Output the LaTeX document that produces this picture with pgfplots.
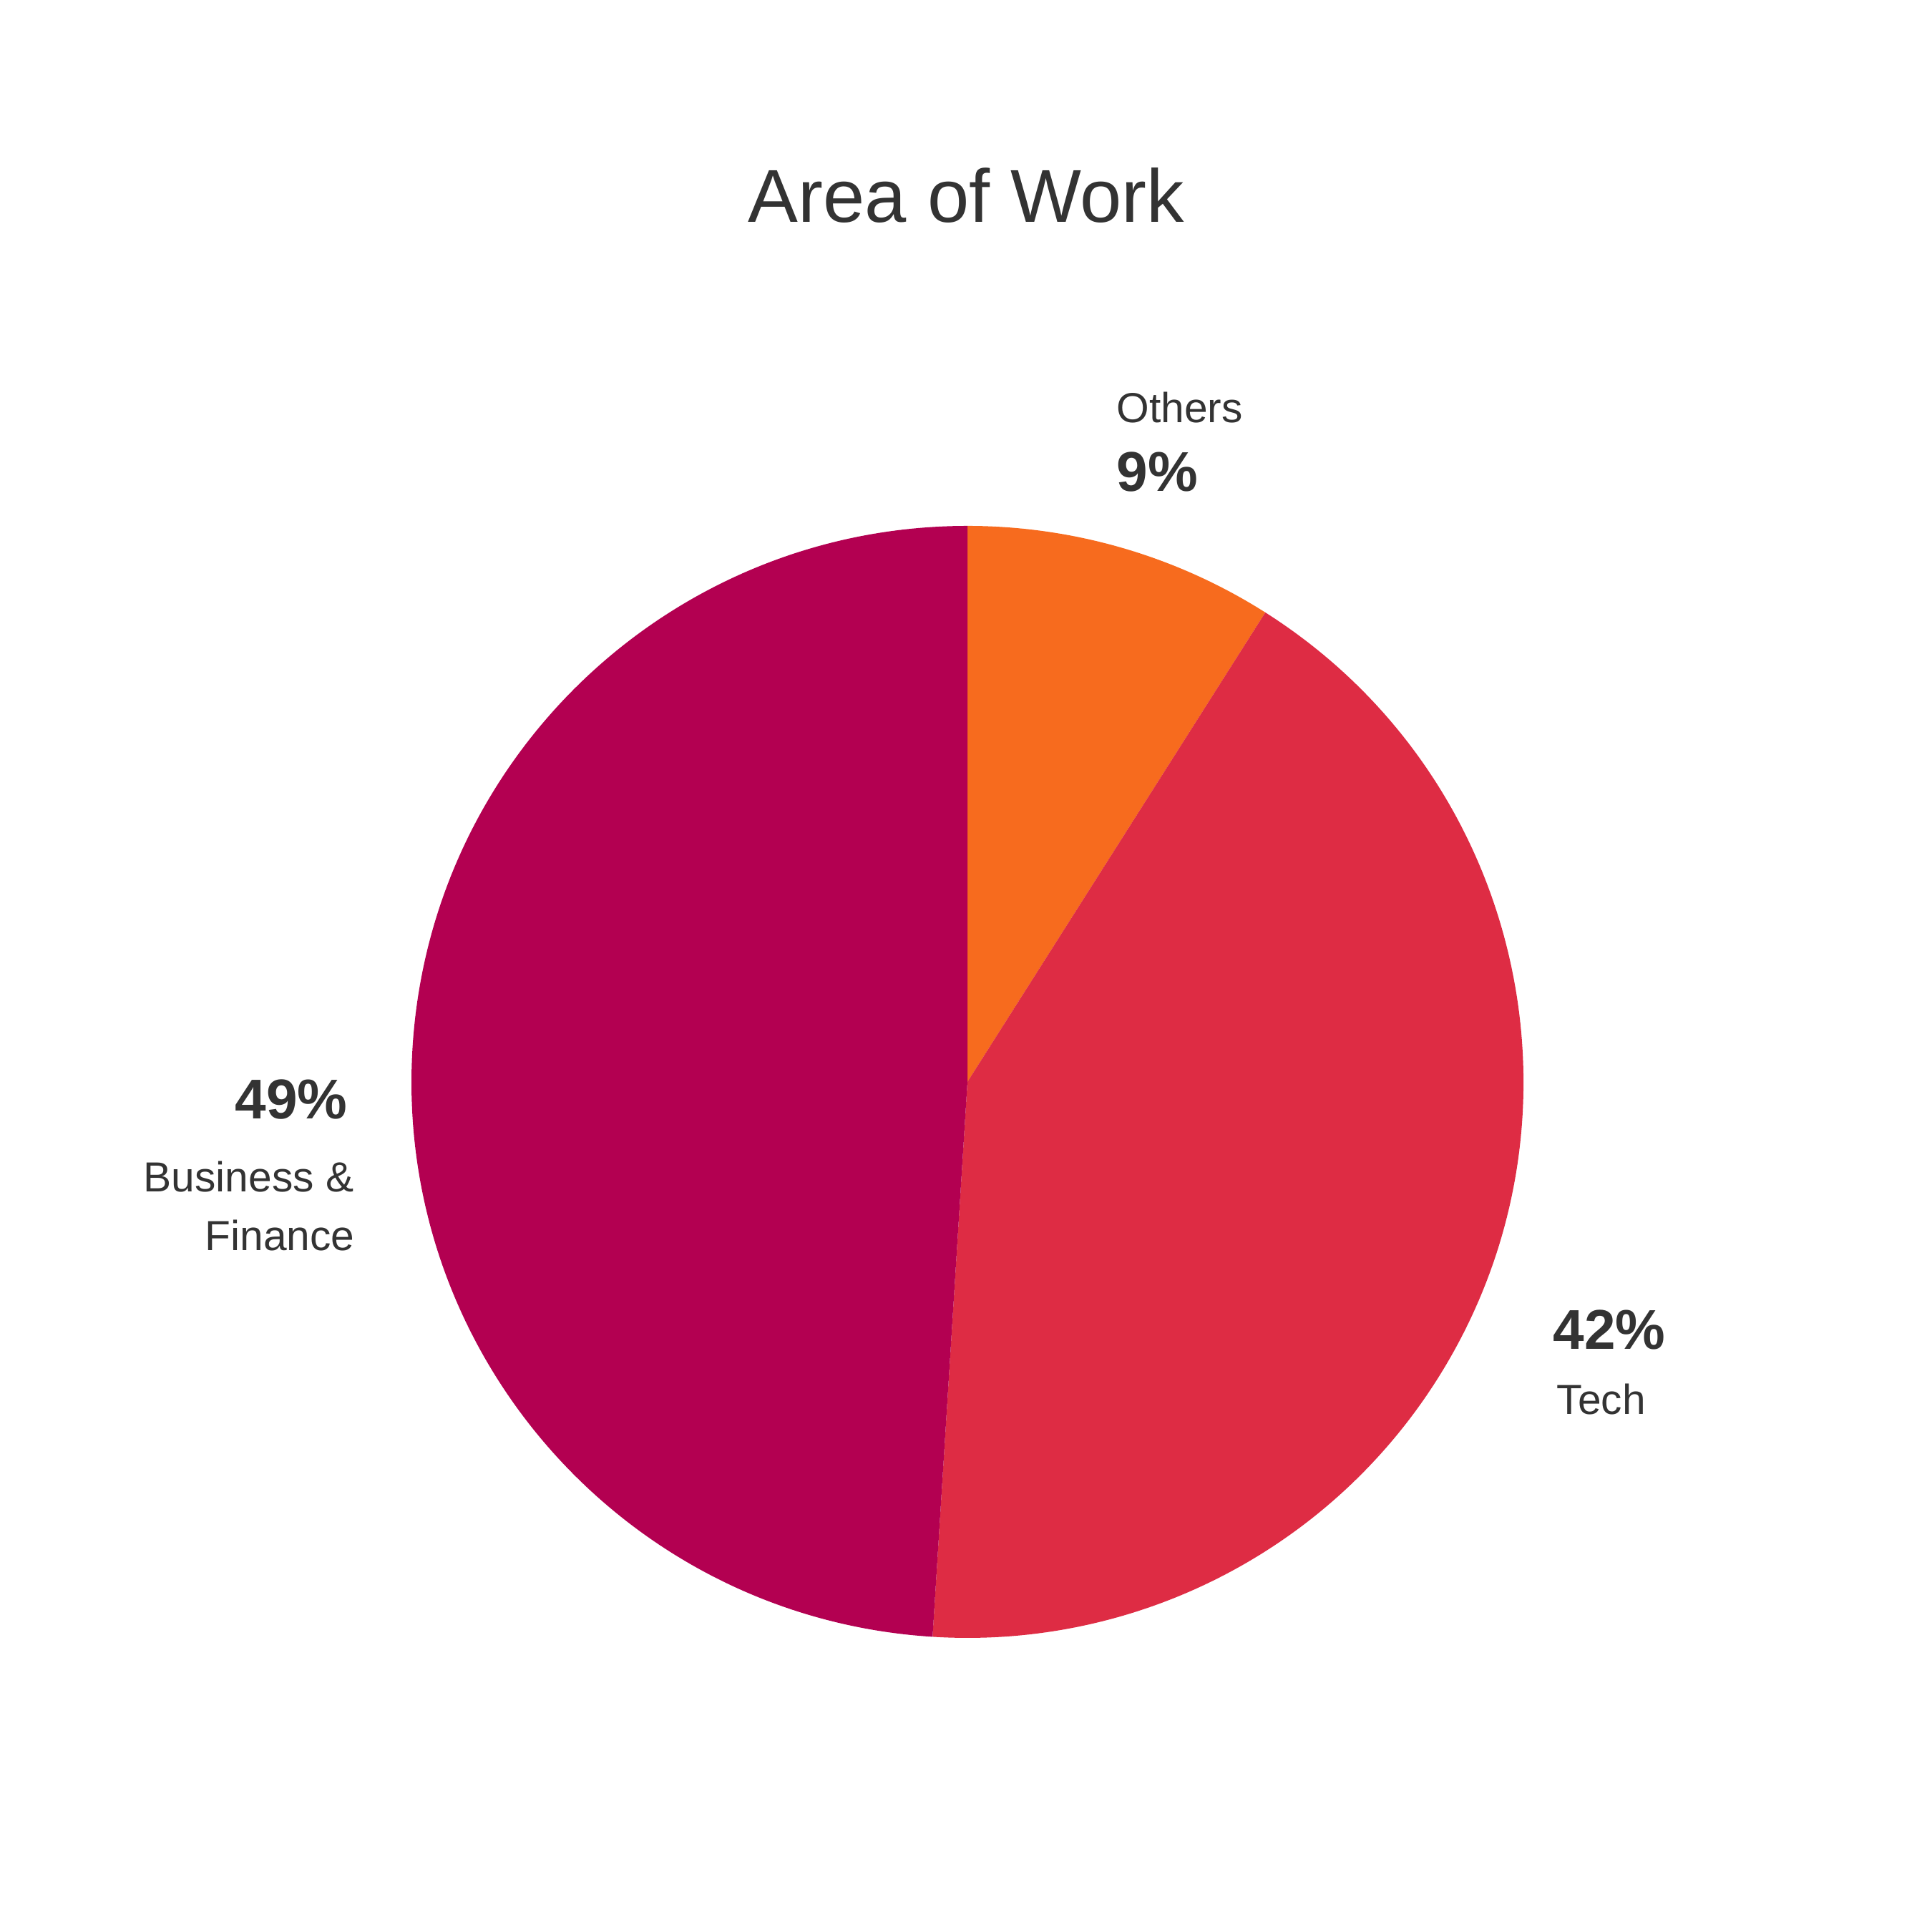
\documentclass[border=0pt]{standalone}
\usepackage{fontspec}
\setmainfont{Liberation Sans}
\usepackage{pgfplots}
\pgfplotsset{compat=1.18}
\definecolor{cOthers}{HTML}{F76B1E}
\definecolor{cTech}{HTML}{DE2C44}
\definecolor{cBusiness}{HTML}{B30051}
\definecolor{txt}{HTML}{333333}
% shares (percent), clockwise from 12 o'clock
\def\vOthers{9}
\def\vTech{42}
\def\vBusiness{49}
\begin{document}
\begin{tikzpicture}
\useasboundingbox (0,0) rectangle (27cm,27cm);
\begin{axis}[
  x=7.77cm, y=7.77cm,
  xmin=-1, xmax=1, ymin=-1, ymax=1,
  hide axis, clip=false,
  at={(13.52cm,11.88cm)}, anchor=center,
]
\pgfmathsetmacro{\aA}{90}
\pgfmathsetmacro{\aB}{90-\vOthers*3.6}
\pgfmathsetmacro{\aC}{\aB-\vTech*3.6}
\pgfmathsetmacro{\aD}{\aC-\vBusiness*3.6}
\fill[cOthers] (axis cs:0,0) -- ({cos(\aA)},{sin(\aA)}) arc[start angle=\aA, end angle=\aB, radius=7.77cm] -- cycle;
\fill[cTech] (axis cs:0,0) -- ({cos(\aB)},{sin(\aB)}) arc[start angle=\aB, end angle=\aC, radius=7.77cm] -- cycle;
\fill[cBusiness] (axis cs:0,0) -- ({cos(\aC)},{sin(\aC)}) arc[start angle=\aC, end angle=\aD, radius=7.77cm] -- cycle;
\end{axis}
\node[anchor=base, text=txt, font=\fontsize{29.8pt}{34pt}\selectfont, inner sep=0pt] at (13.505cm,23.89cm) {Area of Work};
\node[anchor=base west, text=txt, font=\fontsize{16.7pt}{20pt}\selectfont, inner sep=0pt] at (15.60cm,21.09cm) {Others};
\node[anchor=base west, text=txt, font=\fontsize{22.3pt}{26pt}\selectfont\bfseries, inner sep=0pt] at (15.60cm,20.13cm) {9\%};
\node[anchor=base east, text=txt, font=\fontsize{22.3pt}{26pt}\selectfont\bfseries, inner sep=0pt] at (4.86cm,11.36cm) {49\%};
\node[anchor=base east, text=txt, font=\fontsize{16.7pt}{20pt}\selectfont, inner sep=0pt] at (4.95cm,10.34cm) {Business \&};
\node[anchor=base east, text=txt, font=\fontsize{16.7pt}{20pt}\selectfont, inner sep=0pt] at (4.96cm,9.52cm) {Finance};
\node[anchor=base west, text=txt, font=\fontsize{22.3pt}{26pt}\selectfont\bfseries, inner sep=0pt] at (21.70cm,8.14cm) {42\%};
\node[anchor=base west, text=txt, font=\fontsize{16.7pt}{20pt}\selectfont, inner sep=0pt] at (21.75cm,7.23cm) {Tech};
\end{tikzpicture}
\end{document}
